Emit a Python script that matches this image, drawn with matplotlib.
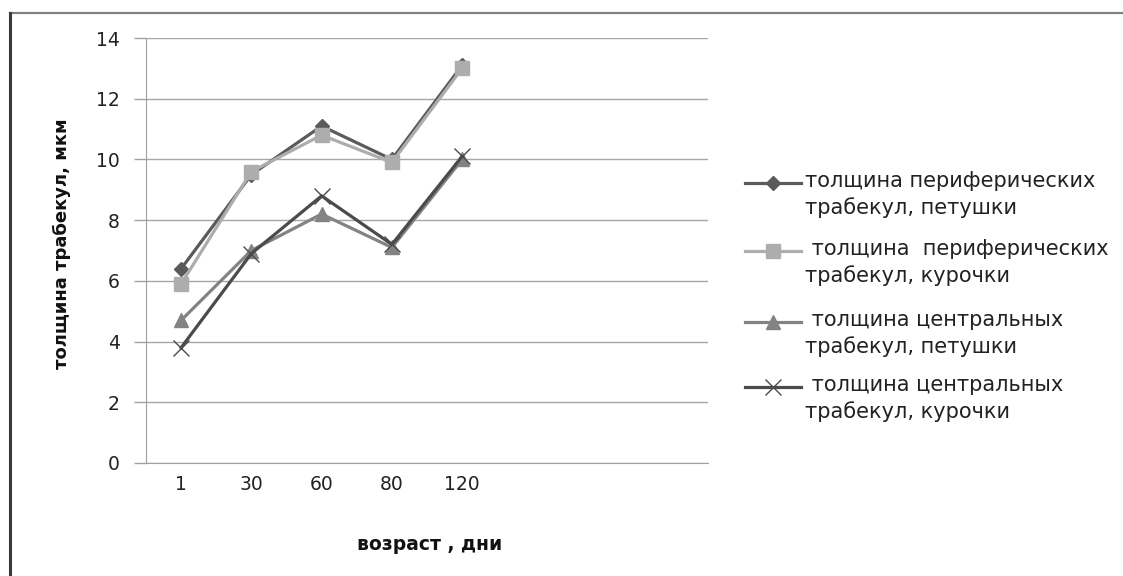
import matplotlib
matplotlib.use("Agg")
import matplotlib.pyplot as plt
from matplotlib.lines import Line2D

plt.rcParams['font.family'] = ['DejaVu Sans']

W, H = 1123, 576

# Age, days (category axis with room for 8 slots)
ages = ["1", "30", "60", "80", "120"]
n_slots = 8

# Trabecula thickness, µm
periph_roosters = [6.4, 9.5, 11.1, 10.0, 13.1]
periph_hens = [5.9, 9.6, 10.8, 9.9, 13.0]
central_roosters = [4.7, 7.0, 8.2, 7.1, 10.0]
central_hens = [3.8, 6.9, 8.8, 7.2, 10.1]

labels = [
    "толщина периферических\nтрабекул, петушки",
    " толщина  периферических\nтрабекул, курочки",
    " толщина центральных\nтрабекул, петушки",
    " толщина центральных\nтрабекул, курочки",
]

styles = [
    dict(color="#5a5a5a", marker="D", ms=7),
    dict(color="#adadad", marker="s", ms=10),
    dict(color="#838383", marker="^", ms=10),
    dict(color="#4b4b4b", marker="x", ms=11, mew=1.0),
]
series = [periph_roosters, periph_hens, central_roosters, central_hens]


def fx(px):
    return px / W


def fy(py):
    return 1 - py / H


fig = plt.figure(figsize=(W / 100, H / 100), dpi=100)
ax = fig.add_axes([fx(146), fy(463), 562 / W, 425 / H])

x = list(range(len(ages)))
lw = 2.3
for i, (vals, st) in enumerate(zip(series, styles)):
    ax.plot(x, vals, lw=lw, zorder=3 + i, **st)

ax.set_xlim(-0.5, n_slots - 0.5)
ax.set_ylim(0, 14)
ax.set_yticks(range(0, 15, 2))
ax.set_xticks(x)
ax.set_xticklabels(ages)
ax.tick_params(axis="x", length=0, pad=9, labelsize=13.5, colors="#222222")
ax.tick_params(axis="y", length=9, width=1, color="#a0a0a0", pad=10,
               labelsize=13.5, labelcolor="#222222")

ax.grid(axis="y", color="#a6a6a6", lw=1)
ax.set_axisbelow(True)
for side in ("top", "right"):
    ax.spines[side].set_visible(False)
ax.spines["left"].set_color("#a0a0a0")
ax.spines["bottom"].set_color("#a0a0a0")

fig.text(fx(430), fy(545), "возраст , дни", fontsize=13.5, fontweight="bold",
         ha="center", va="center", color="#111111")
fig.text(fx(62), fy(244), "толщина трабекул, мкм", fontsize=13,
         fontweight="bold", rotation=90, ha="center", va="center",
         color="#111111")

# Legend: key line aligned with the first line of each two-line label
first_rows = [183, 251, 322, 387]
for lab, st, y0 in zip(labels, styles, first_rows):
    fig.add_artist(Line2D([fx(745), fx(801)], [fy(y0)] * 2, lw=lw,
                          color=st["color"], transform=fig.transFigure))
    fig.add_artist(Line2D([fx(773)], [fy(y0)], lw=0,
                          transform=fig.transFigure, **st))
    fig.text(fx(805), fy(y0 - 12), lab, fontsize=15, ha="left", va="top",
             color="#222222", linespacing=1.35)

# Outer chart frame
fig.add_artist(Line2D([fx(10), 1], [fy(12.5)] * 2, color="#808080",
                      lw=1.6, transform=fig.transFigure))
fig.add_artist(Line2D([fx(9.5)] * 2, [0, fy(12.5)], color="#3a3a3a",
                      lw=2.2, transform=fig.transFigure))

fig.savefig("out.png", dpi=100)
